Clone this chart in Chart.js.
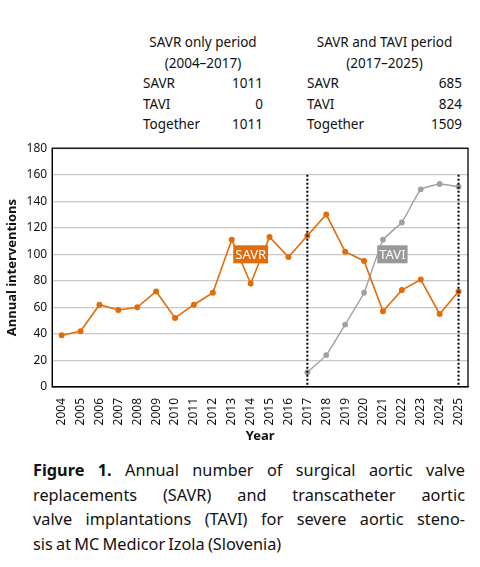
<!DOCTYPE html>
<html><head><meta charset="utf-8">
<script src="https://cdn.jsdelivr.net/npm/chart.js@4"></script>
<style>
body{margin:0;background:#fff;font-family:"Noto Sans",sans-serif;color:#111;width:480px;height:567px;position:relative;overflow:hidden}
.t{position:absolute;font-size:13.5px;line-height:20.5px}
.t div{display:flex;justify-content:space-between}
.c{text-align:center;display:block!important}
#wrap{position:absolute;left:0;top:136px;width:480px;height:312px}
#cap{position:absolute;left:33px;top:458px;width:432px;font-size:16.3px;line-height:24.5px;word-spacing:-1px}
#cap div{text-align:justify;text-align-last:justify;white-space:nowrap}
#cap div.l{text-align-last:left}
</style></head><body>
<div class="t" style="left:143px;top:32px;width:120px">
<div class="c">SAVR only period</div><div class="c">(2004–2017)</div>
<div><span>SAVR</span><span>1011</span></div>
<div><span>TAVI</span><span>0</span></div>
<div><span>Together</span><span>1011</span></div>
</div>
<div class="t" style="left:307px;top:32px;width:155px">
<div class="c">SAVR and TAVI period</div><div class="c">(2017–2025)</div>
<div><span>SAVR</span><span>685</span></div>
<div><span>TAVI</span><span>824</span></div>
<div><span>Together</span><span>1509</span></div>
</div>
<div id="wrap"><canvas id="ch"></canvas></div>
<div id="cap"><div><b>Figure 1.</b> Annual number of surgical aortic valve</div><div>replacements (SAVR) and transcatheter aortic</div><div>valve implantations (TAVI) for severe aortic steno-</div><div class="l">sis at MC Medicor Izola (Slovenia)</div></div>
<script>
const years=["2004","2005","2006","2007","2008","2009","2010","2011","2012","2013","2014","2015","2016","2017","2018","2019","2020","2021","2022","2023","2024","2025"];
const savr=[39,42,62,58,60,72,52,62,71,111,78,113,98,114,130,102,95,57,73,81,55,72];
const tavi=[null,null,null,null,null,null,null,null,null,null,null,null,null,11,24,47,71,111,124,149,153,151];
const yTicks=[0,20,40,60,80,100,120,140,160,180];
const orange="#e36c0a", grey="#a0a0a0";
const deco={id:"deco",afterDatasetsDraw(c){
 const {ctx,chartArea:a,scales:{x,y}}=c;
 const px0=x.getPixelForTick(0),step=x.getPixelForTick(1)-px0;
 const xp=i=>px0+i*step;
 ctx.save();
 ctx.strokeStyle="#000";ctx.lineWidth=1.3;ctx.strokeRect(a.left,a.top,a.right-a.left,a.bottom-a.top);
 ctx.setLineDash([2,2]);ctx.lineWidth=2;
 [13,21].forEach(i=>{const px=x.getPixelForValue(i);ctx.beginPath();ctx.moveTo(px,y.getPixelForValue(160));ctx.lineTo(px,y.getPixelForValue(0));ctx.stroke();});
 ctx.setLineDash([]);
 ctx.font="13px 'Noto Sans'";ctx.textBaseline="middle";
 [["SAVR",10,100,orange],["TAVI",17.5,100,"#999"]].forEach(([t,xi,yv,col])=>{
  const px=xp(xi),py=y.getPixelForValue(yv),w=ctx.measureText(t).width+4;
  ctx.fillStyle=col;ctx.fillRect(px-w/2,py-9,w,18);ctx.fillStyle="#fff";ctx.textAlign="center";ctx.fillText(t,px,py+1);});
 ctx.restore();}};
new Chart(document.getElementById("ch"),{type:"line",
 data:{labels:years,datasets:[
  {data:savr,borderColor:orange,backgroundColor:orange,borderWidth:1.6,pointRadius:2.2,tension:0},
  {data:tavi,borderColor:grey,backgroundColor:grey,borderWidth:1.4,pointRadius:2.2,tension:0.1}]},
 options:{responsive:true,maintainAspectRatio:false,animation:false,
  layout:{padding:{left:0,right:12,top:4}},
  plugins:{legend:{display:false},tooltip:{enabled:false}},
  scales:{
   x:{offset:true,grid:{display:false},border:{color:"#000"},
    ticks:{color:"#111",font:{family:"Noto Sans",size:12},maxRotation:90,minRotation:90,autoSkip:false},
    title:{display:true,text:"Year",color:"#111",font:{family:"Noto Sans",size:13,weight:"bold"},padding:{top:0}}},
   y:{min:0,max:180,afterBuildTicks:s=>{s.ticks=yTicks.map(v=>({value:v}));},
    grid:{color:"#c8c8c8",lineWidth:1.3,drawTicks:false},border:{color:"#000"},
    ticks:{color:"#111",font:{family:"Noto Sans",size:12},padding:5},
    title:{display:true,text:"Annual interventions",color:"#111",font:{family:"Noto Sans",size:13,weight:"bold"},padding:{bottom:2}}}}},
 plugins:[deco]});
</script></body></html>
